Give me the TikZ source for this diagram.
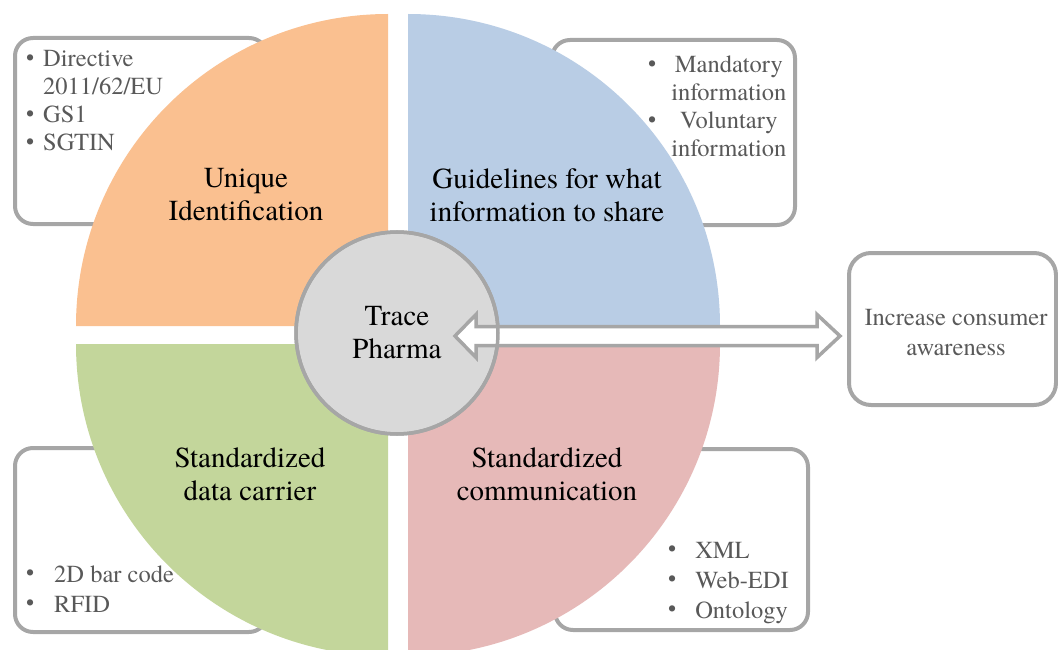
\documentclass[tikz,border=0pt]{standalone}
\usepackage{fontspec}
\setmainfont{texgyretermes}[Extension=.otf, UprightFont=*-regular, BoldFont=*-bold, ItalicFont=*-italic, BoldItalicFont=*-bolditalic]
\usetikzlibrary{calc}

\definecolor{idorange}{HTML}{FAC090}
\definecolor{guideblue}{HTML}{B9CDE5}
\definecolor{carriergreen}{HTML}{C3D69B}
\definecolor{commred}{HTML}{E6B9B8}
\definecolor{hubgray}{HTML}{D9D9D9}
\definecolor{linegray}{HTML}{A6A6A6}
\definecolor{textgray}{HTML}{595959}

\newcommand{\listdot}{\raisebox{1.5pt}{\fontsize{23}{23}\selectfont\textbullet}}

\tikzset{
  infobox/.style={draw=linegray, line width=4, rounded corners=18, fill=white, inner sep=0},
  quadtext/.style={align=center, text=black, font=\fontsize{29}{33}\selectfont},
  listtext/.style={anchor=base west, inner sep=0, text=textgray, font=\fontsize{24.5}{#1}\selectfont},
  listtext/.default=28,
  blockarrow/.style={draw=linegray, fill=white, line width=3.5, line join=miter},
}

\begin{document}
\begin{tikzpicture}[x=1pt,y=-1pt]
        \useasboundingbox (0,0) rectangle (1058,650);

        \node[infobox, anchor=north west, minimum width=252, minimum height=186] at (13,36) (idbox) {};
        \node[infobox, anchor=north west, minimum width=243, minimum height=185] at (550,38) (guidebox) {};
        \node[infobox, anchor=north west, minimum width=252, minimum height=184] at (13,446) (carrierbox) {};
        \node[infobox, anchor=north west, minimum width=253, minimum height=181] at (553,447) (commbox) {};

        \fill[idorange] (388,326) -- ++(-312,0) arc[start angle=180, end angle=270, radius=312] -- cycle;
        \fill[guideblue] (408,326) -- ++(312,0) arc[start angle=0, end angle=-90, radius=312] -- cycle;
        \fill[carriergreen] (388,344) -- ++(-312,0) arc[start angle=180, end angle=90, radius=312] -- cycle;
        \fill[commred] (408,344) -- ++(312,0) arc[start angle=0, end angle=90, radius=312] -- cycle;

        \node[quadtext] at (246,195) (uid) {Unique\\Identification};
        \node[quadtext] at (547,195) (guide) {Guidelines for what\\information to share};
        \node[quadtext] at (250,474) (carrier) {Standardized\\data carrier};
        \node[quadtext] at (547,474) (comm) {Standardized\\communication};

        \node[circle, fill=hubgray, draw=linegray, line width=3.5, minimum size=202, inner sep=0, quadtext] at (397,333) (hub) {Trace\\Pharma};

        \node[infobox, rounded corners=22, minimum width=207, minimum height=152] at (952.5,329) (aware) {};
        \node[align=center, text=textgray, font=\fontsize{24.5}{30}\selectfont] at (956,333) (awaretext) {Increase consumer\\awareness};

        % hollow double arrow between hub and aware
        \coordinate (linkL) at ($(hub.center)+(58,3)$);
        \coordinate (linkR) at ($(aware.west)+(-7,7)$);
        \draw[blockarrow] (linkL) -- ++(21,-21.5) -- ++(0,12) -- ($(linkR)+(-23,-9.5)$) -- ++(0,-12)
            -- (linkR) -- ++(-23,21.5) -- ++(0,-12) -- ($(linkL)+(21,9.5)$) -- ++(0,12) -- cycle;
        \draw[linegray, line width=3.5] (hub.center) circle[radius=101];

        \node[listtext] at (26,67) (idlist) {\begin{tabular}[t]{@{}c@{\hspace{9pt}}l@{}}
            \listdot & Directive\\ & 2011/62/EU\\ \listdot & GS1\\ \listdot & SGTIN\end{tabular}};
        \node[listtext] at (648,73) (guidelist) {\begin{tabular}[t]{@{}c@{\hspace{15pt}}c@{}}
            \listdot & Mandatory\\ & information\\ \listdot & Voluntary\\ & information\end{tabular}};
        \node[listtext=30] at (26,582) (carrierlist) {\begin{tabular}[t]{@{}c@{\hspace{20pt}}l@{}}
            \listdot & 2D bar code\\ \listdot & RFID\end{tabular}};
        \node[listtext=30] at (668,558) (commlist) {\begin{tabular}[t]{@{}c@{\hspace{19pt}}l@{}}
            \listdot & XML\\ \listdot & Web-EDI\\ \listdot & Ontology\end{tabular}};
    \end{tikzpicture}
\end{document}
